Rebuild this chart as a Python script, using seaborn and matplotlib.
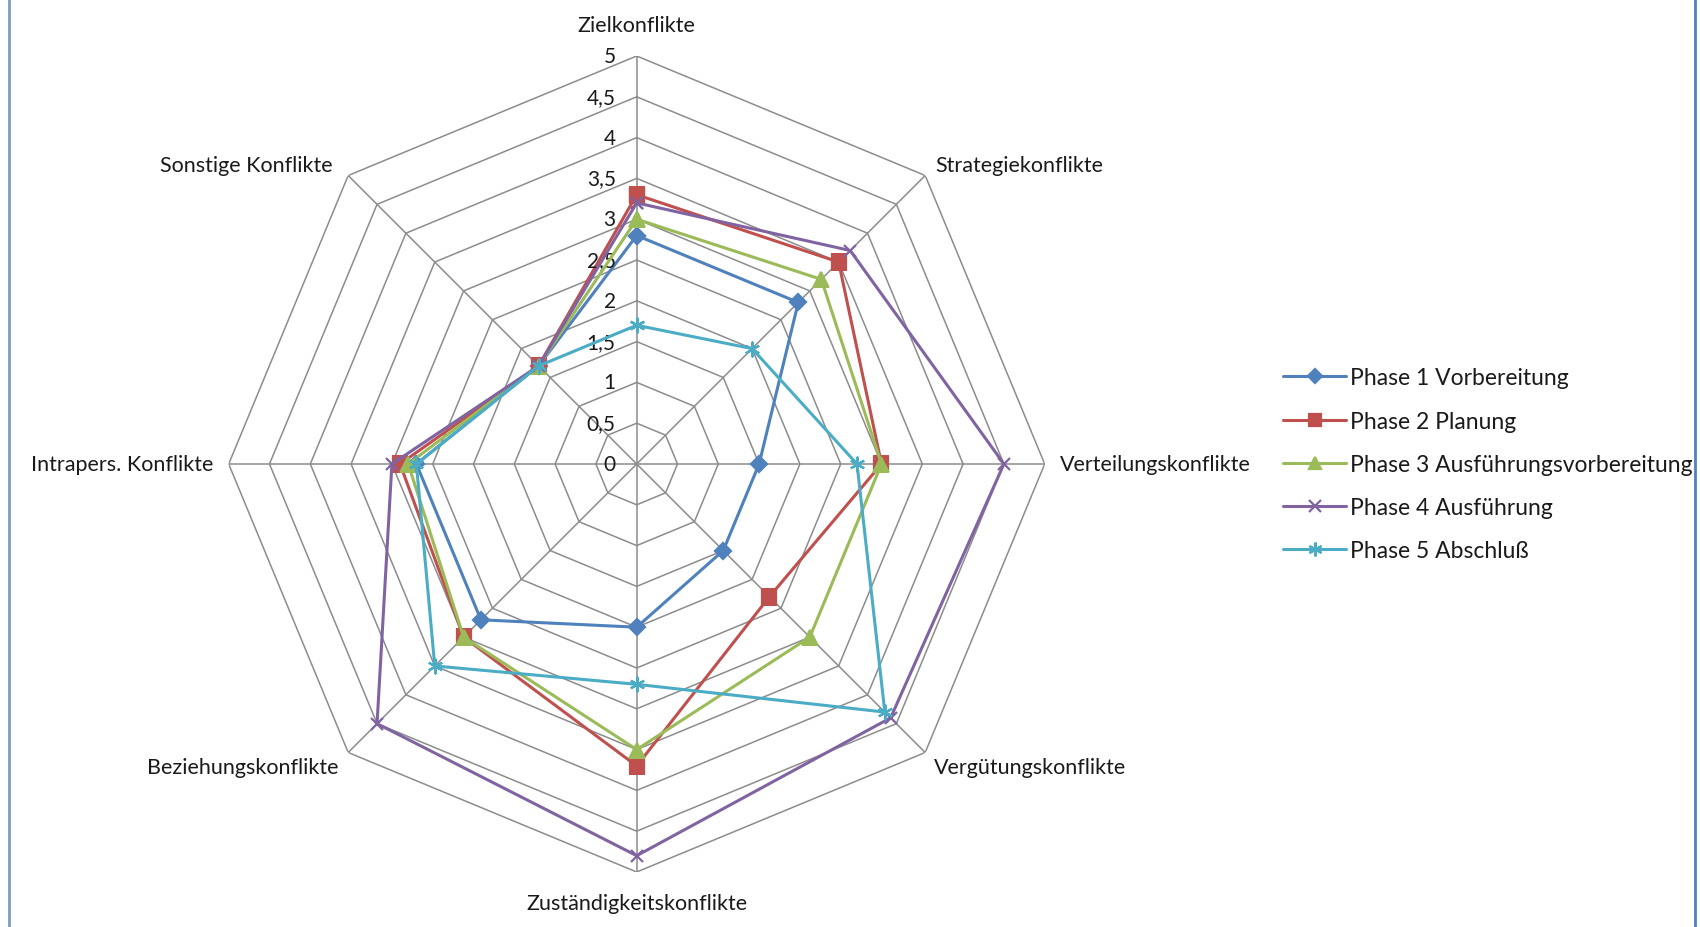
import numpy as np
import pandas as pd
import matplotlib
matplotlib.use("Agg")
import matplotlib.pyplot as plt
from matplotlib.transforms import offset_copy
from matplotlib.lines import Line2D
import seaborn as sns

# Conflict categories, clockwise from the top
categories = [
    "Zielkonflikte",
    "Strategiekonflikte",
    "Verteilungskonflikte",
    "Vergütungskonflikte",
    "Zuständigkeitskonflikte",
    "Beziehungskonflikte",
    "Intrapers. Konflikte",
    "Sonstige Konflikte",
]

# Mean rating per project phase
phase1 = [2.8, 2.8, 1.5, 1.5, 2.0, 2.7, 2.7, 1.7]
phase2 = [3.3, 3.5, 3.0, 2.3, 3.7, 3.0, 2.9, 1.7]
phase3 = [3.0, 3.2, 3.0, 3.0, 3.5, 3.0, 2.8, 1.7]
phase4 = [3.2, 3.7, 4.5, 4.4, 4.8, 4.5, 3.0, 1.7]
phase5 = [1.7, 2.0, 2.7, 4.3, 2.7, 3.5, 2.7, 1.7]

phase_names = [
    "Phase 1 Vorbereitung",
    "Phase 2 Planung",
    "Phase 3 Ausführungsvorbereitung",
    "Phase 4 Ausführung",
    "Phase 5 Abschluß",
]

# Radial scale
r_levels = [0, 0.5, 1, 1.5, 2, 2.5, 3, 3.5, 4, 4.5, 5]
r_labels = ["0", "0,5", "1", "1,5", "2", "2,5", "3", "3,5", "4", "4,5", "5"]

colors = ["#4F81BD", "#C0504D", "#9BBB59", "#8064A2", "#4BACC6"]
markers = ["D", "s", "^", "x", (6, 2, 0)]
msizes = [8, 10, 10, 9, 11]

sns.set_theme(style="white")
plt.rcParams["font.family"] = ["Lato", "DejaVu Sans"]

fig = plt.figure(figsize=(17, 9.28), dpi=100)
fig.patch.set_facecolor("white")
ax = fig.add_axes([228.7 / 1700, 55 / 928, 816 / 1700, 816 / 928], projection="polar")
ax.set_theta_zero_location("N")
ax.set_theta_direction(-1)
ax.set_ylim(0, 5)
ax.grid(False)
ax.spines["polar"].set_visible(False)
ax.set_xticks([])
ax.set_yticks([])
ax.set_facecolor("white")

n = len(categories)
theta = np.linspace(0, 2 * np.pi, n, endpoint=False)
theta_closed = np.append(theta, 2 * np.pi)

grid_col = "#8C8C8C"
# Octagonal rings
for lv in r_levels[1:]:
    ax.plot(theta_closed, [lv] * (n + 1), color=grid_col, lw=1.1, zorder=1)
# Spokes
for t in theta:
    ax.plot([t, t], [0, r_levels[-1]], color=grid_col, lw=1.1, zorder=1)

text_col = "#1A1A1A"

# Radial value labels along the top spoke
lab_tr = offset_copy(ax.transData, fig=fig, x=-21, y=0, units="dots")
for lv, lab in zip(r_levels, r_labels):
    ax.text(0, lv, lab, transform=lab_tr, ha="right", va="center",
            fontsize=15, color=text_col, zorder=5)

# Category labels around the outer ring
label_spec = [
    (0, 21, "center", "bottom"),
    (10, 1, "left", "bottom"),
    (15, 0, "left", "center"),
    (9, -5, "left", "top"),
    (0, -21, "center", "top"),
    (-10, -5, "right", "top"),
    (-15, 0, "right", "center"),
    (-16, 1, "right", "bottom"),
]
for t, cat, (dx, dy, ha, va) in zip(theta, categories, label_spec):
    tr = offset_copy(ax.transData, fig=fig, x=dx, y=dy, units="dots")
    ax.text(t, r_levels[-1], cat, transform=tr, ha=ha, va=va,
            fontsize=15.5, color=text_col)

series = [phase1, phase2, phase3, phase4, phase5]
handles = []
for i, (name, vals) in enumerate(zip(phase_names, series)):
    df = pd.DataFrame({"theta": theta_closed, "wert": vals + vals[:1]})
    sns.lineplot(data=df, x="theta", y="wert", ax=ax, sort=False, estimator=None,
                 color=colors[i], lw=2.2, marker=markers[i], markersize=msizes[i],
                 mec=colors[i], mfc=colors[i], mew=1.6, zorder=3 + i, legend=False)
    handles.append(Line2D([], [], color=colors[i], lw=2.2, marker=markers[i],
                          markersize=msizes[i] - 1, mec=colors[i], mfc=colors[i], mew=1.6))

ax.set_xlabel("")
ax.set_ylabel("")
ax.set_ylim(0, 5)

fig.legend(handles, phase_names, loc="center left",
           bbox_to_anchor=(1272 / 1700, 0.4985), frameon=False,
           fontsize=16.5, handlelength=2.75, handletextpad=0.15, labelspacing=0.97,
           borderpad=0, labelcolor=text_col)

# Frame edges of the chart area
fig.add_artist(Line2D([9 / 1700, 9 / 1700], [0, 1], transform=fig.transFigure,
                      color="#7F9CC4", lw=2))
fig.add_artist(Line2D([1695 / 1700, 1695 / 1700], [0, 1], transform=fig.transFigure,
                      color="#4F7FC8", lw=2))

fig.savefig("out.png", dpi=100)
